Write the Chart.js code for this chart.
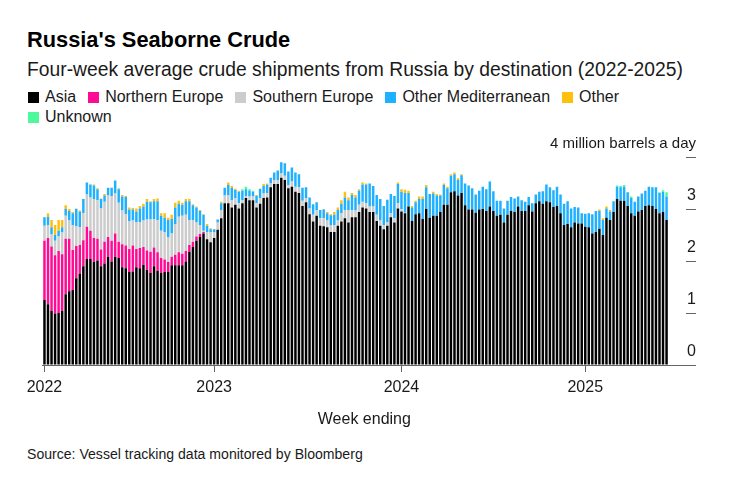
<!DOCTYPE html>
<html>
<head>
<meta charset="utf-8">
<title>Russia's Seaborne Crude</title>
<script src="https://cdn.jsdelivr.net/npm/chart.js@4"></script>
<style>
    html, body { margin: 0; padding: 0; background: #fff; }
    body { width: 740px; height: 481px; position: relative; overflow: hidden; font-family: "Liberation Sans", Arial, sans-serif; color: #1a1a1a; }
    .text { position: absolute; left: 27px; white-space: nowrap; }
    #title { top: 27px; font-size: 21.8px; line-height: 26px; font-weight: bold; color: #000; }
    #subtitle { top: 59px; font-size: 19.3px; line-height: 22px; }
    #legend { position: absolute; left: 27px; top: 87px; width: 640px; display: flex; flex-wrap: wrap; font-size: 16px; line-height: 20px; }
    #legend span.item { display: flex; align-items: center; margin-right: 11px; }
    #legend i { display: block; width: 11px; height: 11px; margin: 0 6px 0 1px; }
    #source { top: 446px; font-size: 14.08px; line-height: 16px; }
    canvas { position: absolute; left: 0; top: 130px; }
</style>
</head>
<body>
<div class="text" id="title">Russia's Seaborne Crude</div>
<div class="text" id="subtitle">Four-week average crude shipments from Russia by destination (2022-2025)</div>
<div id="legend"></div>
<canvas id="crudeChart" width="740" height="299"></canvas>
<div class="text" id="source">Source: Vessel tracking data monitored by Bloomberg</div>

<script>
// Tick labels on the week axis, with the week index each one sits on
const yearLabels = ['2022', '2023', '2024', '2025'];
const yearWeeks = [0, 48, 101, 153];
const yUnit = '4 million barrels a day';

// Weekly values in million barrels a day
const asia = [
    1.25,1.17,1.04,.99,1.0,1.04,1.36,1.42,1.44,1.67,
    1.76,1.90,2.04,2.04,1.98,2.01,1.90,1.95,2.08,1.99,
    2.08,2.06,1.88,1.86,1.79,1.80,1.88,1.86,1.93,1.83,
    1.77,1.90,1.81,1.77,1.79,1.79,1.92,1.92,1.92,1.92,
    1.99,2.18,2.27,2.39,2.46,2.53,2.42,2.36,2.44,2.60,
    2.82,3.11,3.11,3.03,3.08,3.01,3.11,3.21,3.17,3.17,
    3.03,3.10,3.21,3.22,3.42,3.48,3.48,3.60,3.56,3.40,
    3.43,3.33,3.31,3.06,3.13,2.90,2.76,2.87,2.68,2.67,
    2.65,2.56,2.56,2.68,2.76,2.82,2.74,2.84,2.84,2.94,
    3.03,3.01,2.94,2.94,2.77,2.68,2.61,2.68,2.84,2.74,
    3.01,2.95,2.92,3.05,2.77,2.90,2.92,2.81,3.00,2.83,
    2.87,2.87,2.94,3.08,3.08,3.32,3.34,3.26,3.31,3.07,
    2.99,2.99,2.93,2.99,3.00,2.96,3.05,2.96,2.87,2.89,
    2.74,2.89,2.96,2.94,3.05,2.96,2.96,3.07,2.95,3.11,
    3.15,3.10,3.15,3.13,3.04,3.06,2.92,2.69,2.71,2.65,
    2.74,2.72,2.72,2.66,2.65,2.53,2.56,2.62,2.50,2.83,
    2.79,2.94,3.19,3.16,3.16,3.06,2.92,2.87,2.95,2.98,
    3.06,3.07,3.06,3.00,2.92,2.94,2.79
];
const northernEurope = [
    1.14,1.27,1.24,1.12,1.19,1.09,1.07,1.01,.77,.62,
    .55,.50,.62,.54,.46,.42,.32,.42,.38,.40,
    .45,.31,.44,.44,.44,.50,.35,.39,.34,.37,
    .41,.36,.36,.29,.24,.19,.16,.20,.25,.22,
    .20,.13,.10,.08,.06,.03
];
const southernEurope = [
    .29,.25,.23,.28,.29,.42,.44,.35,.48,.38,
    .34,.52,.62,.64,.75,.74,.79,.77,.80,.86,
    .77,.75,.65,.60,.54,.48,.51,.50,.51,.60,
    .62,.55,.62,.52,.53,.47,.45,.59,.68,.73,
    .70,.48,.42,.27,.17,.02,.14,.19,.12,.14,
    .16,.15,.15,.14,.13,.10,.06,.03,.07,.07,
    .08,.11,.09,.09,.07,.08,.08,.09,.08,.06,
    .10,.10,.11,.10,.08,.11,.13,.11,.14,.15,
    .13,.13,.13,.10,.16,.16,.24,.14,.13,.14,
    .11,.10,.11,.11,.12,.10,.08,.06,.08,.08,
    .10,.05,.01
];
const otherMediterranean = [
    .16,.16,.14,.11,.10,.10,.13,.18,.23,.33,
    .30,.27,.23,.25,.26,.21,.18,.12,.15,.16,
    .25,.26,.27,.33,.22,.21,.21,.26,.27,.34,
    .33,.34,.36,.29,.27,.34,.28,.32,.25,.21,
    .26,.36,.28,.29,.27,.31,.12,.06,.05,.06,
    .13,.15,.20,.24,.16,.22,.18,.14,.11,.09,
    .14,.18,.14,.16,.11,.14,.18,.21,.24,.26,
    .27,.27,.25,.25,.21,.21,.20,.15,.16,.17,
    .14,.19,.20,.20,.18,.24,.19,.29,.25,.27,
    .33,.36,.44,.39,.38,.41,.37,.44,.37,.43,
    .37,.33,.38,.26,.26,.23,.27,.38,.42,.46,
    .43,.39,.32,.38,.32,.32,.33,.30,.34,.42,
    .46,.41,.35,.36,.43,.42,.48,.38,.29,.27,
    .27,.27,.27,.26,.19,.21,.18,.16,.16,.17,
    .18,.24,.32,.29,.32,.37,.36,.41,.44,.36,
    .30,.31,.20,.25,.27,.37,.40,.34,.29,.18,
    .16,.21,.24,.26,.27,.26,.29,.27,.29,.32,
    .29,.36,.36,.42,.39,.39,.45
];
const other = [
    0,.07,.14,.19,.21,.14,.07,.04,.02,.01,
    .02,0,0,0,.02,.02,.01,.03,0,0,
    0,.02,.03,.02,.04,.03,.06,.05,.05,.05,
    .02,.04,.05,.05,.09,.04,.08,.09,.06,.04,
    .04,.04,.02,.02,.02,.01,.03,.02,0,0,
    .03,0,.05,.03,.02,.02,0,0,0,0,
    .02,0,.04,.02,0,0,0,0,0,0,
    0,0,0,0,0,0,0,0,0,.01,
    .02,.02,.05,.05,.07,.11,.05,.04,.05,.03,
    .04,.02,0,0,0,0,0,0,0,0,
    .03,.05,.06,.04,.03,.03,.05,.05,.04,0,
    .03,.03,.02,.03,.03,.03,.03,.03,.02,0,
    0,0,0,0,0,0,0,0,0,0,
    0,0,0,0,0,0,0,0,0,0,
    0,0,0,0,0,0,0,0,0,0,
    0,0,0,0,0,0,0,.03,.03,.04,
    .03,0,0,0,0,0,0,0,0,0,
    0,0,0,0,0,0,0
];
const unknown = [
    0,0,0,0,0,0,0,0,0,0,
    0,0,0,0,0,0,0,0,0,0,
    0,0,0,0,0,0,0,0,0,0,
    0,0,0,0,0,0,0,0,0,0,
    0,0,0,0,0,0,0,0,0,0,
    0,0,0,0,0,0,.03,.05,.03,.02,
    0,0,0,0,0,0,0,0,0,0,
    0,0,0,0,0,0,0,0,0,0,
    0,0,0,0,0,0,0,0,0,0,
    0,0,0,0,0,0,0,0,0,0,
    0,0,0,0,0,0,0,0,0,0,
    0,0,0,0,0,0,0,0,0,0,
    0,0,0,0,0,0,0,0,0,0,
    0,0,0,0,0,0,0,0,0,0,
    0,0,0,0,0,0,0,0,0,0,
    0,0,0,0,0,0,0,0,0,0,
    0,0,.02,.02,.03,0,.03,0,0,0,
    0,0,0,0,.01,.03,.08
];

const seriesNames = ['Asia', 'Northern Europe', 'Southern Europe', 'Other Mediterranean', 'Other', 'Unknown'];
const seriesValues = [asia, northernEurope, southernEurope, otherMediterranean, other, unknown];
const seriesColors = ['#000000', '#ff0a93', '#cccccc', '#1fb0ff', '#ffbf0f', '#4dfa9b'];

// The axis runs on for a few empty weeks after the last bar
const weekCount = 182;
const weeks = [];
for (let i = 0; i < weekCount; i++) {
    weeks.push('Week ' + (i + 1));
}

// Legend sits in the page header, above the canvas
const legend = document.getElementById('legend');
seriesNames.forEach((name, i) => {
    const item = document.createElement('span');
    item.className = 'item';
    item.innerHTML = `<i style="background:${seriesColors[i]}"></i>${name}`;
    legend.appendChild(item);
    if (name === 'Other') {
        const rowBreak = document.createElement('div');
        rowBreak.style.flexBasis = '100%';
        legend.appendChild(rowBreak);
    }
});

const textColor = '#1a1a1a';
const axisColor = '#666666';
const fontFamily = '"Liberation Sans", Arial, sans-serif';
const axisFont = { family: fontFamily, size: 16 };

new Chart(document.getElementById('crudeChart'), {
    type: 'bar',
    data: {
        labels: weeks,
        datasets: seriesNames.map((name, i) => ({
            label: name,
            data: seriesValues[i],
            backgroundColor: seriesColors[i],
            borderWidth: 0,
            barPercentage: 0.7,
            categoryPercentage: 1
        }))
    },
    options: {
        responsive: false,
        animation: false,
        layout: { padding: { left: 42.7, right: 44, top: 27, bottom: 0 } },
        plugins: { legend: { display: false }, tooltip: { enabled: false } },
        scales: {
            x: {
                stacked: true,
                border: { color: axisColor, width: 1 },
                grid: { drawOnChartArea: false, offset: false, tickLength: 7, tickColor: axisColor },
                ticks: {
                    autoSkip: false,
                    maxRotation: 0,
                    padding: 6,
                    color: textColor,
                    font: axisFont,
                    callback: (value, index) => yearLabels[index]
                },
                afterBuildTicks: scale => {
                    scale.ticks = yearWeeks.map(week => ({ value: week }));
                },
                afterFit: scale => { scale.height = 64; },
                title: { display: true, text: 'Week ending', color: textColor, font: axisFont, padding: { top: 12, bottom: 0 } }
            },
            y: {
                stacked: true,
                position: 'right',
                min: 0,
                max: 4,
                border: { display: false },
                grid: { drawOnChartArea: false, tickLength: 10, tickColor: axisColor },
                ticks: {
                    stepSize: 1,
                    mirror: true,
                    padding: 10,
                    labelOffset: -13,
                    color: textColor,
                    font: ctx => ({ family: fontFamily, size: ctx.tick && ctx.tick.value === 4 ? 15 : 16 }),
                    callback: value => (value === 4 ? yUnit : String(value))
                },
                afterFit: scale => { scale.width = 10; }
            }
        }
    }
});
</script>
</body>
</html>
